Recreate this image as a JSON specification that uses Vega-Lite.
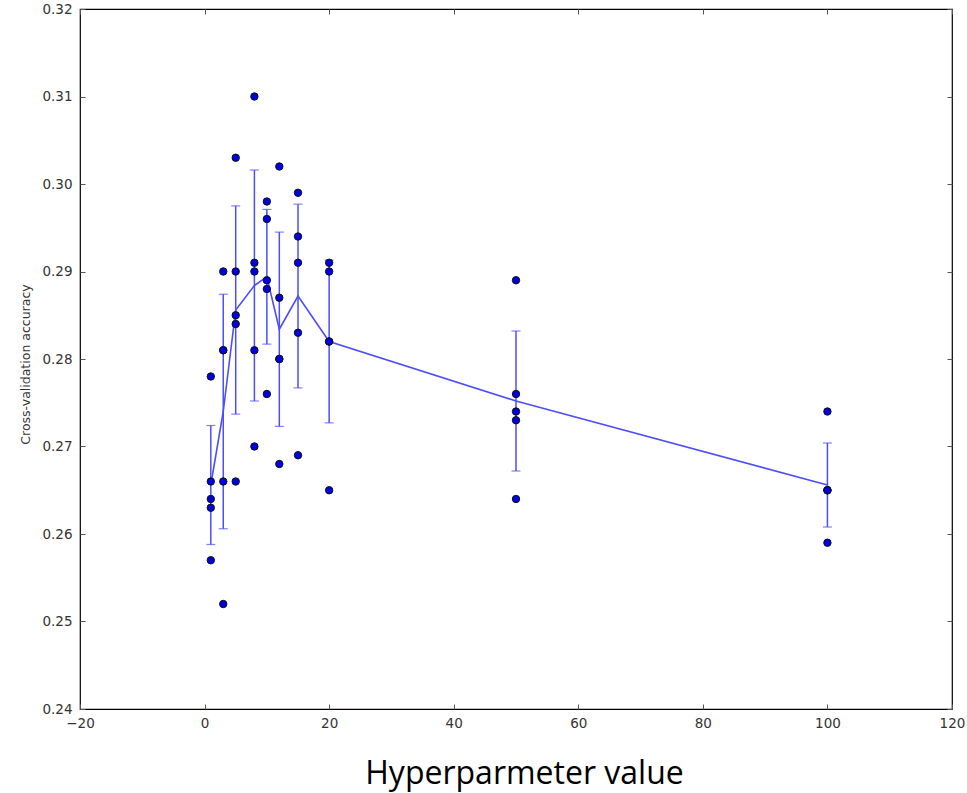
{
  "$schema": "https://vega.github.io/schema/vega-lite/v6.json",
  "autosize": "none",
  "padding": {"left": 80, "top": 9, "right": 15, "bottom": 84},
  "width": 872,
  "height": 700,
  "background": "white",
  "config": {
    "view": {"stroke": "black", "strokeWidth": 1.2},
    "axis": {
      "domain": false,
      "grid": false,
      "tickSize": -5,
      "tickColor": "#555",
      "labelFlush": false,
      "labelOverlap": false,
      "labelFont": "DejaVu Sans",
      "labelFontSize": 13.5,
      "labelColor": "#333",
      "titleFont": "DejaVu Sans",
      "titleFontWeight": "normal"
    }
  },
  "datasets": {
    "points": [
      {"x": 1, "acc": 0.278}, {"x": 1, "acc": 0.266}, {"x": 1, "acc": 0.264}, {"x": 1, "acc": 0.263}, {"x": 1, "acc": 0.257},
      {"x": 3, "acc": 0.290}, {"x": 3, "acc": 0.281}, {"x": 3, "acc": 0.281}, {"x": 3, "acc": 0.266}, {"x": 3, "acc": 0.252},
      {"x": 5, "acc": 0.303}, {"x": 5, "acc": 0.290}, {"x": 5, "acc": 0.285}, {"x": 5, "acc": 0.284}, {"x": 5, "acc": 0.266},
      {"x": 8, "acc": 0.310}, {"x": 8, "acc": 0.291}, {"x": 8, "acc": 0.290}, {"x": 8, "acc": 0.281}, {"x": 8, "acc": 0.270},
      {"x": 10, "acc": 0.298}, {"x": 10, "acc": 0.296}, {"x": 10, "acc": 0.289}, {"x": 10, "acc": 0.288}, {"x": 10, "acc": 0.276},
      {"x": 12, "acc": 0.302}, {"x": 12, "acc": 0.287}, {"x": 12, "acc": 0.280}, {"x": 12, "acc": 0.280}, {"x": 12, "acc": 0.268},
      {"x": 15, "acc": 0.299}, {"x": 15, "acc": 0.294}, {"x": 15, "acc": 0.291}, {"x": 15, "acc": 0.283}, {"x": 15, "acc": 0.269},
      {"x": 20, "acc": 0.291}, {"x": 20, "acc": 0.290}, {"x": 20, "acc": 0.282}, {"x": 20, "acc": 0.282}, {"x": 20, "acc": 0.265},
      {"x": 50, "acc": 0.289}, {"x": 50, "acc": 0.276}, {"x": 50, "acc": 0.274}, {"x": 50, "acc": 0.273}, {"x": 50, "acc": 0.264},
      {"x": 100, "acc": 0.274}, {"x": 100, "acc": 0.265}, {"x": 100, "acc": 0.265}, {"x": 100, "acc": 0.265}, {"x": 100, "acc": 0.259}
    ],
    "summary": [
      {"x": 1, "mean": 0.2656, "lo": 0.2588, "hi": 0.2724},
      {"x": 3, "mean": 0.2740, "lo": 0.2606, "hi": 0.2874},
      {"x": 5, "mean": 0.2856, "lo": 0.2737, "hi": 0.2975},
      {"x": 8, "mean": 0.2884, "lo": 0.2752, "hi": 0.3016},
      {"x": 10, "mean": 0.2894, "lo": 0.2817, "hi": 0.2971},
      {"x": 12, "mean": 0.2834, "lo": 0.2723, "hi": 0.2945},
      {"x": 15, "mean": 0.2872, "lo": 0.2767, "hi": 0.2977},
      {"x": 20, "mean": 0.2820, "lo": 0.2727, "hi": 0.2913},
      {"x": 50, "mean": 0.2752, "lo": 0.2672, "hi": 0.2832},
      {"x": 100, "mean": 0.2656, "lo": 0.2608, "hi": 0.2704}
    ]
  },
  "resolve": {"axis": {"x": "independent", "y": "independent"}},
  "layer": [
    {
      "data": {"name": "summary"},
      "mark": {"type": "errorbar", "color": "#4d4dff", "thickness": 1.5, "ticks": {"size": 9, "color": "#4d4dff", "thickness": 1.2}},
      "encoding": {
        "x": {"field": "x", "type": "quantitative", "scale": {"domain": [-20, 120], "nice": false, "zero": false},
              "axis": {"orient": "top", "labels": false, "title": null, "values": [-20, 0, 20, 40, 60, 80, 100, 120]}},
        "y": {"field": "lo", "type": "quantitative", "scale": {"domain": [0.24, 0.32], "nice": false, "zero": false},
              "axis": {"orient": "right", "labels": false, "title": null, "values": [0.24, 0.25, 0.26, 0.27, 0.28, 0.29, 0.30, 0.31, 0.32]}},
        "y2": {"field": "hi"}
      }
    },
    {
      "data": {"name": "summary"},
      "mark": {"type": "line", "color": "#4d4dff", "strokeWidth": 1.6},
      "encoding": {
        "x": {"field": "x", "type": "quantitative", "axis": null},
        "y": {"field": "mean", "type": "quantitative", "axis": null}
      }
    },
    {
      "data": {"name": "points"},
      "mark": {"type": "point", "filled": true, "fill": "#0000e0", "stroke": "#111", "strokeWidth": 1, "size": 55, "opacity": 1},
      "encoding": {
        "x": {"field": "x", "type": "quantitative",
              "axis": {"orient": "bottom", "values": [-20, 0, 20, 40, 60, 80, 100, 120], "labelPadding": 12,
                       "labelExpr": "replace(datum.label, '-', '\u2212')",
                       "title": "Hyperparmeter value", "titleFont": "Open Sans", "titleFontSize": 32, "titleColor": "black",
                       "titleX": 444, "titleY": 74, "titleBaseline": "alphabetic", "titleAlign": "center", "titleAnchor": null}},
        "y": {"field": "acc", "type": "quantitative",
              "axis": {"orient": "left", "values": [0.24, 0.25, 0.26, 0.27, 0.28, 0.29, 0.30, 0.31, 0.32], "format": ".2f", "labelPadding": 13,
                       "title": "Cross-validation accuracy", "titleFontSize": 12.5, "titleColor": "#333",
                       "titleX": -55, "titleY": 355, "titleAngle": -90, "titleBaseline": "middle", "titleAlign": "center"}}
      }
    }
  ]
}
